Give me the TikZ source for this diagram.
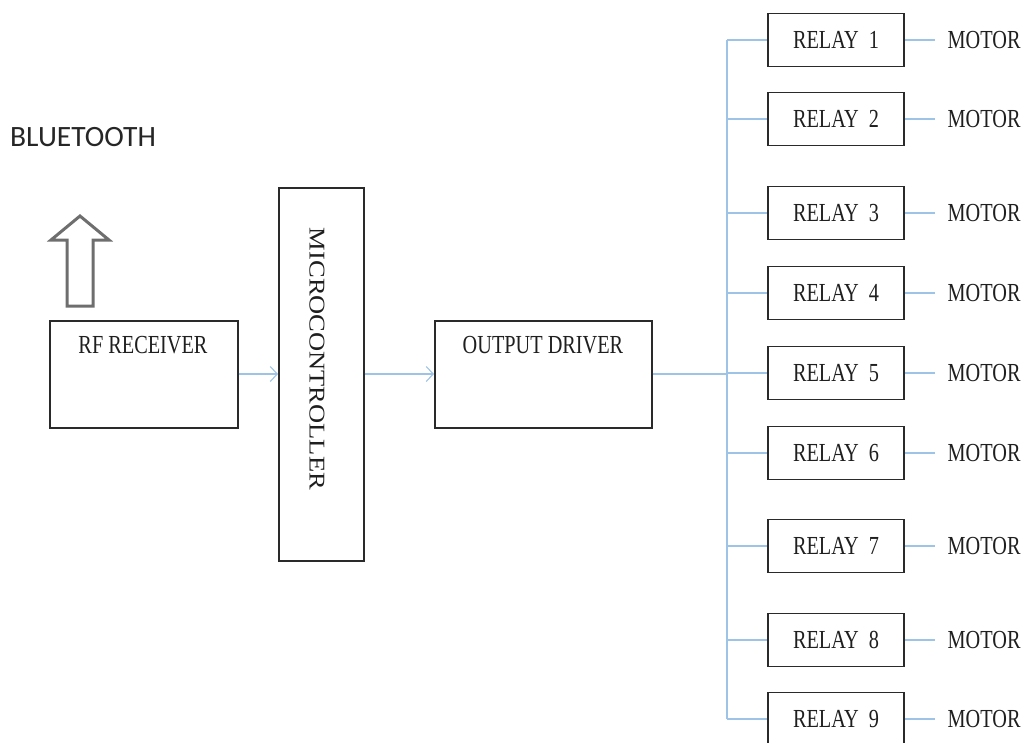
\documentclass[tikz,border=0pt]{standalone}
\usepackage{fontspec}
\usepackage{graphicx}
\setmainfont{Liberation Serif}
\newfontfamily\btfont{Carlito}
\usetikzlibrary{arrows.meta}
\definecolor{wire}{HTML}{9DC3E6}
\definecolor{boxline}{HTML}{2A2A2A}
\definecolor{hollow}{HTML}{6E6E6E}
\newcommand{\cnd}[1]{\scalebox{0.78}[1]{#1}}
\tikzset{
  blk/.style={draw=boxline, line width=1.6pt, fill=white, inner sep=0pt, anchor=north west},
  txt/.style={font=\fontsize{26}{26}\selectfont, text=black!88},
  wirel/.style={draw=wire, line width=1.1pt},
  wirea/.style={wirel, -{Straight Barb[length=7pt,width=15pt,line width=1.1pt]}},
  relaybox/.style={blk, anchor=center, minimum width=136pt, minimum height=53pt, txt},
  motor/.style={txt, anchor=west, inner xsep=12.5pt, inner ysep=0pt}
}
\begin{document}
\begin{tikzpicture}[x=1pt,y=-1pt]
\useasboundingbox (0,0) rectangle (1025,742);
\clip (0,0) rectangle (1025,742);

% Bluetooth label and hollow arrow
\node[anchor=west, inner sep=0pt, font=\btfont\fontsize{29.5}{30}\selectfont, text=black!85] (bt) at (10,137) {BLUETOOTH};
\draw[hollow, line width=3pt, line join=miter]
  (67,306) -- (67,240) -- (51,240) -- (80,216) -- (109,240) -- (93,240) -- (93,306) -- cycle;

% Main blocks
\node[blk, minimum width=188pt, minimum height=107pt] (rf) at (49,320) {};
\node[txt, anchor=center] (rft) at (143,345) {\cnd{RF RECEIVER}};

\node[blk, minimum width=85pt, minimum height=373pt] (mc) at (278,187) {};
\node[txt, anchor=center, rotate=-90, font=\fontsize{26.5}{27}\selectfont] (mct) at (317,359) {\scalebox{1}[0.85]{MICROCONTROLLER}};

\node[blk, minimum width=217pt, minimum height=107pt] (od) at (434,320) {};
\node[txt, anchor=center] (odt) at (543,345) {\cnd{OUTPUT DRIVER}};

% Arrows between main blocks
\draw[wirea] (rf.east |- 0,374) -- (mc.west |- 0,374);
\draw[wirea] (mc.east |- 0,374) -- (od.west |- 0,374);

% Bus
\coordinate (busx) at (727,0);
\coordinate (bustop) at (727,40);
\coordinate (busbot) at (727,719);
\draw[wirel] (od.east |- 0,374) -- (busx |- 0,374);
\draw[wirel] (bustop) -- (busbot);

% Relays and motors
\foreach \i/\y in {1/40,2/119,3/213,4/293,5/373,6/453,7/546,8/640,9/719}{
  \node[relaybox] (r\i) at (836,\y) {\cnd{RELAY\ \ \i}};
  \node[motor] (m\i) at (935,\y) {\cnd{MOTOR}};
  \draw[wirel] (r\i.west -| busx) -- (r\i.west);
  \draw[wirel] (r\i.east) -- (m\i.west);
}
\end{tikzpicture}
\end{document}
